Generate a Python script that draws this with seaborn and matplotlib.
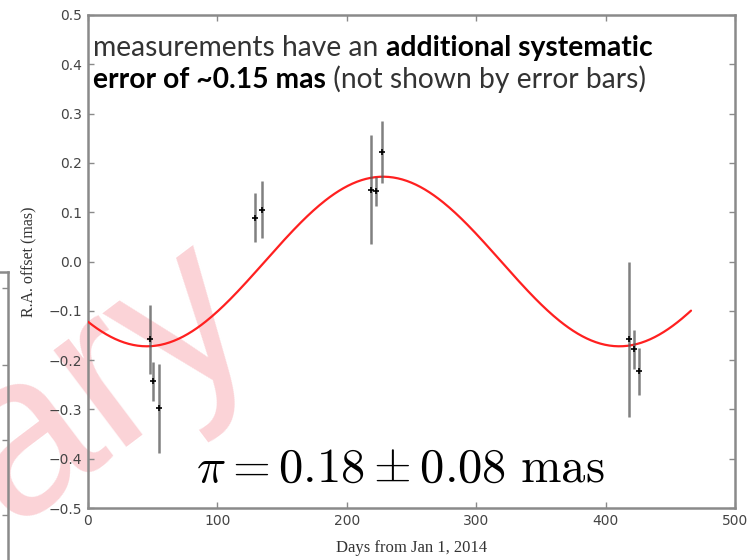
import numpy as np
import pandas as pd
import matplotlib
matplotlib.use("Agg")
import matplotlib.pyplot as plt
import seaborn as sns

# Astrometric measurements: days since 2014-01-01, RA offset and 1-sigma error (mas)
days = [47.7, 50.5, 54.5, 129.0, 134.6, 219.0, 222.5, 227.0, 418.0, 422.0, 426.0]
ra_offset = [-0.158, -0.243, -0.298, 0.089, 0.105, 0.146, 0.142, 0.223, -0.158, -0.178, -0.223]
ra_error = [0.070, 0.040, 0.090, 0.050, 0.058, 0.110, 0.030, 0.063, 0.158, 0.040, 0.048]

# Best-fit parallax model (annual sinusoid in RA)
model_amplitude = 0.172
model_peak_day = 228.0
model_period = 365.25
model_span = (0.0, 466.0)

x_ticks = [0, 100, 200, 300, 400, 500]
y_ticks = [-0.5, -0.4, -0.3, -0.2, -0.1, 0.0, 0.1, 0.2, 0.3, 0.4, 0.5]

sns.set_theme(style="white")
plt.rcParams["mathtext.fontset"] = "cm"
plt.rcParams["axes.unicode_minus"] = True

W, H = 756, 560
fig = plt.figure(figsize=(W / 100, H / 100), dpi=100)
fig.patch.set_facecolor("white")

def px_rect(x0, y0, x1, y1):
    return [x0 / W, 1 - y1 / H, (x1 - x0) / W, (y1 - y0) / H]

spine_col = "#8a8a8a"

# large draft stamp under everything else
fig.text(263 / W, 1 - 330 / H, "Preliminary", rotation=37, rotation_mode="anchor",
         ha="right", va="baseline", fontsize=165, color="#fbd3d7",
         family="Liberation Sans", zorder=-5)

# neighbouring panel, only its right edge shows
ax_left = fig.add_axes(px_rect(-300, 272, 8, 860))
ax_left.patch.set_alpha(0)
ax_left.set_xlim(0, 1)
ax_left.set_ylim(0, 1)
ax_left.set_xticks([])
ax_left.set_yticks([1 - 16 / 588, 1 - 93 / 588, 1 - 168 / 588, 1 - 243 / 588])
ax_left.tick_params(axis="y", left=False, right=True, direction="in", length=4,
                    width=1, color=spine_col, labelleft=False)
for s in ax_left.spines.values():
    s.set_color(spine_col)
    s.set_linewidth(1.8)

ax = fig.add_axes(px_rect(88, 15, 735, 508))
ax.patch.set_alpha(0)

t_model = np.linspace(model_span[0], model_span[1], 400)
model = pd.DataFrame({
    "day": t_model,
    "offset": model_amplitude * np.cos(2 * np.pi * (t_model - model_peak_day) / model_period),
})
sns.lineplot(data=model, x="day", y="offset", ax=ax, color="#ff2020", lw=1.6, zorder=3)

obs = pd.DataFrame({"day": days, "offset": ra_offset, "err": ra_error})
ax.errorbar(obs["day"], obs["offset"], yerr=obs["err"], fmt="none",
            ecolor="#555555", elinewidth=1.8, alpha=0.75, zorder=4)
sns.scatterplot(data=obs, x="day", y="offset", ax=ax, color="black", marker="+",
                s=22, linewidth=1.2, zorder=5, legend=False)

ax.set_xlim(0, 500)
ax.set_ylim(-0.5, 0.5)
ax.set_xticks(x_ticks)
ax.set_yticks(y_ticks)
ax.set_yticklabels([f"{v:.1f}".replace("-", "\u2212") for v in y_ticks])
ax.tick_params(axis="both", direction="in", length=4, width=1, color=spine_col,
               labelsize=10, labelcolor="#444444", top=True, right=True,
               bottom=True, left=True, pad=4)
for s in ax.spines.values():
    s.set_color(spine_col)
    s.set_linewidth(1.8)

ax.set_xlabel("Days from Jan 1, 2014", family="Liberation Serif", fontsize=12,
              color="#333333", labelpad=9)
ax.set_ylabel("R.A. offset (mas)", family="Liberation Serif", fontsize=11.5,
              color="#333333", labelpad=8)

# note on systematic error, mixing regular and bold runs
fs = 20.3
x_note = (93 - 88) / (735 - 88)
t1 = ax.text(x_note, 1 - (56 - 15) / (508 - 15), "measurements have an ",
             transform=ax.transAxes, fontsize=fs, family="Lato", color="#333333",
             va="baseline")
ax.annotate("additional systematic", xy=(1, 0), xycoords=t1, va="bottom",
            fontsize=fs, family="Lato", fontweight="bold", color="black")
t2 = ax.text(x_note, 1 - (88 - 15) / (508 - 15), "error of ~0.15 mas",
             transform=ax.transAxes, fontsize=fs, family="Lato", fontweight="bold",
             color="black", va="baseline")
ax.annotate(" (not shown by error bars)", xy=(1, 0), xycoords=t2, va="bottom",
            fontsize=fs, family="Lato", color="#333333")

ax.text((400 - 88) / (735 - 88), 1 - (482 - 15) / (508 - 15),
        r"$\pi = 0.18 \pm 0.08\ \mathrm{mas}$",
        transform=ax.transAxes, ha="center", va="baseline", fontsize=35, color="black")

fig.savefig("out.png", dpi=100, facecolor="white")
